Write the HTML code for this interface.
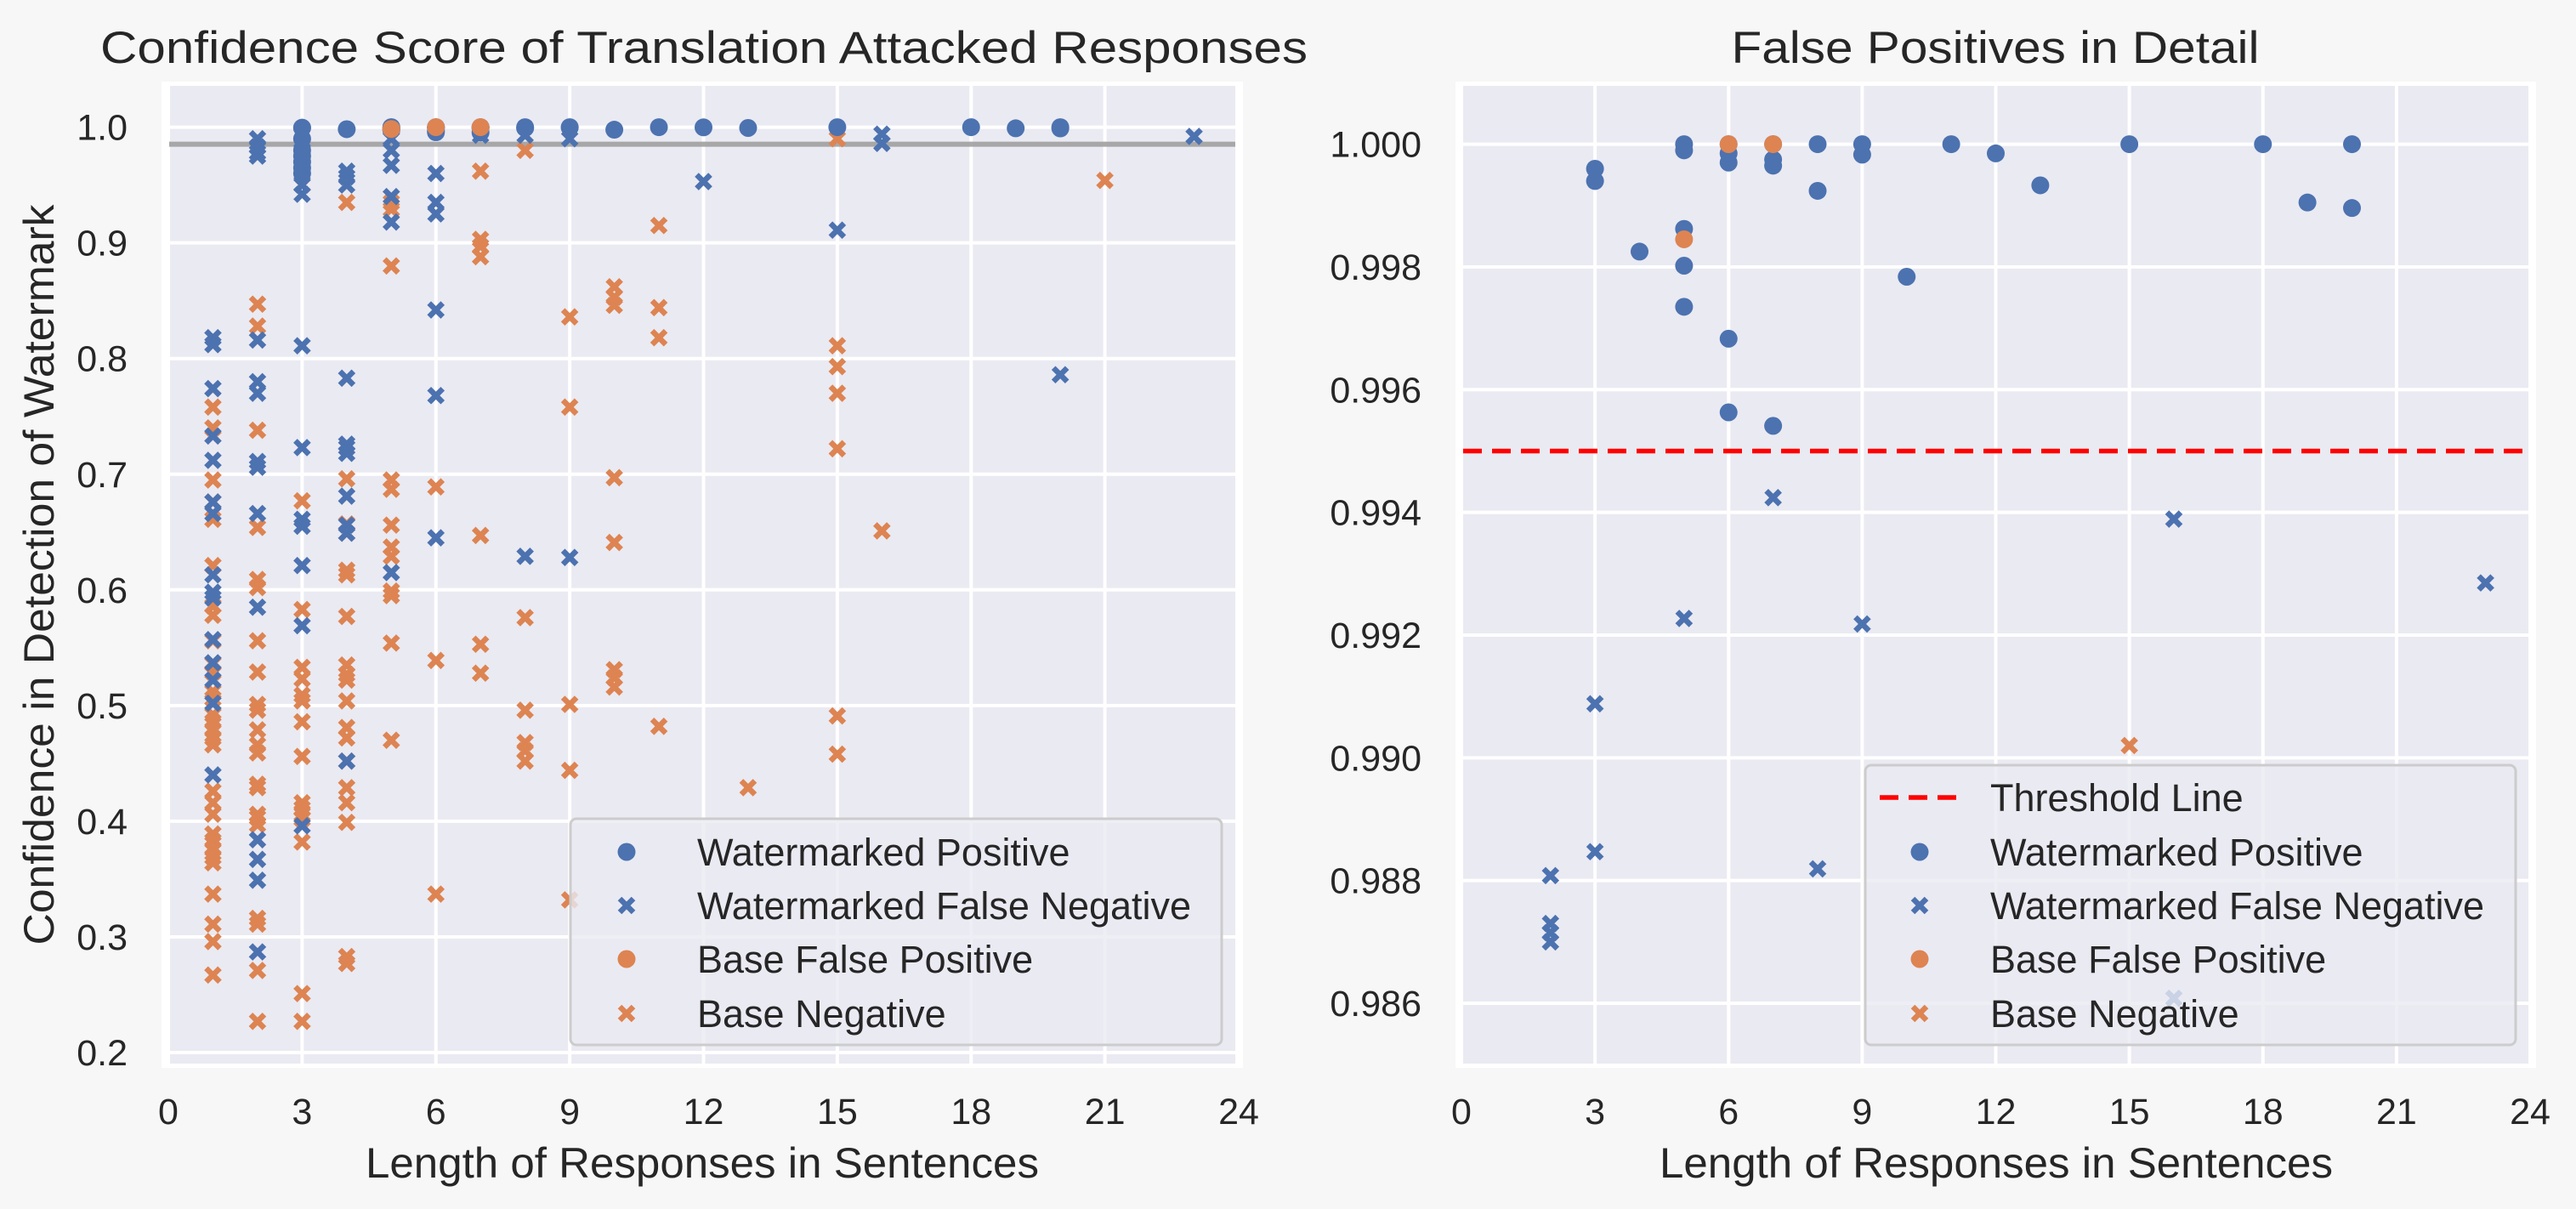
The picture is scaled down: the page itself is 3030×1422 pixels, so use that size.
<!DOCTYPE html>
<html><head><meta charset="utf-8"><style>
html,body{margin:0;padding:0;background:#f7f7f7;}
svg{display:block;font-family:"Liberation Sans",sans-serif;}
</style></head><body>
<svg id="fig" width="3030" height="1422" viewBox="0 0 3030 1422" xmlns="http://www.w3.org/2000/svg"></svg>
<script>
// ---------- data ----------
const wpX = [3,3,4,5,5,5,5,5,6,6,6,6,6,7,7,7,7,8,8,9,9,10,11,12,13,15,18,19,20,20];
const wpY = [0.9996,0.9994,0.99825,1.0,0.9999,0.99862,0.99802,0.99735,1.0,0.99985,0.9997,0.99683,0.99563,1.0,0.99975,0.99965,0.99541,1.0,0.99924,1.0,0.99983,0.99784,1.0,0.99985,0.99933,1.0,1.0,0.99905,1.0,0.99896];
const wpLeftExtraX = [3,3,3,3,3,3];
const wpLeftExtraY = [0.99,0.98,0.975,0.97,0.965,0.96];
const bfpX = [5,6,7];
const bfpY = [0.99845,1.0,1.0];
const wfnRightX = [2,2,2,2,3,3,5,7,8,9,16,16,23];
const wfnRightY = [0.98808,0.9873,0.98715,0.987,0.99088,0.98847,0.99227,0.99424,0.98819,0.99218,0.99389,0.98608,0.99285];
const bnRightX = [15];
const bnRightY = [0.9902];
const wfnLeftX = [1,1,1,1,1,1,1,1,1,1,1,1,1,1,1, 2,2,2,2,2,2,2,2,2,2,2,2,2,2,2, 3,3,3,3,3,3,3,3,3,3,3,3,3,3,3, 4,4,4,4,4,4,4,4,4,4,4, 5,5,5,5,5,5, 6,6,6,6,6,6, 7, 8,8, 9,9, 12, 15, 16,16, 20, 23];
const wfnLeftY = [0.818,0.812,0.774,0.733,0.712,0.676,0.666,0.613,0.598,0.593,0.557,0.537,0.522,0.502,0.44,
 0.99,0.983,0.978,0.975,0.816,0.78,0.77,0.711,0.706,0.666,0.585,0.384,0.367,0.349,0.287,
 0.993,0.987,0.98,0.973,0.967,0.96,0.95,0.942,0.811,0.723,0.661,0.655,0.621,0.569,0.396,
 0.962,0.957,0.95,0.783,0.726,0.723,0.718,0.681,0.656,0.649,0.452,
 0.99,0.98,0.967,0.94,0.918,0.615,
 0.96,0.935,0.925,0.842,0.768,0.645,
 0.993, 0.993,0.629, 0.99,0.628, 0.953, 0.911, 0.994,0.986, 0.786, 0.992];
const bnLeftX = [1,1,1,1,1,1,1,1,1,1,1,1,1,1,1,1,1,1,1,1,1,1,1,1,1,1,1,1,1,1,
 2,2,2,2,2,2,2,2,2,2,2,2,2,2,2,2,2,2,2,2,2,2,
 3,3,3,3,3,3,3,3,3,3,3,3,3,3,3,3,
 4,4,4,4,4,4,4,4,4,4,4,4,4,4,4,4,4,4,4,
 5,5,5,5,5,5,5,5,5,5,5,5,
 6,6,6, 7,7,7,7,7,7,7, 8,8,8,8,8,8, 9,9,9,9,9, 10,10,10,10,10,10,10,10, 11,11,11,11, 13, 15,15,15,15,15,15,15, 16, 21];
const bnLeftY = [0.758,0.74,0.695,0.676,0.661,0.621,0.586,0.578,0.556,0.536,0.529,0.512,0.506,0.492,0.486,0.479,0.472,0.466,0.426,0.416,0.406,0.389,0.383,0.376,0.369,0.364,0.337,0.311,0.296,0.267,
 0.847,0.828,0.738,0.654,0.609,0.602,0.556,0.529,0.501,0.496,0.479,0.466,0.459,0.432,0.429,0.406,0.403,0.397,0.316,0.311,0.271,0.227,
 0.95,0.677,0.583,0.533,0.523,0.509,0.504,0.486,0.456,0.416,0.411,0.406,0.402,0.382,0.251,0.227,
 0.935,0.696,0.657,0.649,0.617,0.613,0.577,0.535,0.527,0.522,0.504,0.481,0.472,0.452,0.429,0.416,0.399,0.283,0.277,
 0.935,0.929,0.88,0.695,0.687,0.656,0.637,0.629,0.599,0.595,0.554,0.47,
 0.689,0.539,0.337, 0.962,0.903,0.897,0.888,0.647,0.553,0.528, 0.98,0.576,0.496,0.468,0.461,0.452,
 0.836,0.758,0.501,0.444,0.332, 0.862,0.853,0.846,0.697,0.641,0.531,0.524,0.516,
 0.915,0.844,0.818,0.482, 0.429, 0.99,0.811,0.793,0.77,0.722,0.491,0.458, 0.651, 0.954];
const xTicks = [0,3,6,9,12,15,18,21,24];
const yTicksLeft = [0.2,0.3,0.4,0.5,0.6,0.7,0.8,0.9,1.0];
const yTicksRight = [0.986,0.988,0.990,0.992,0.994,0.996,0.998,1.000];
const leftThreshold = 0.9853;
const rightThreshold = 0.995;

// ---------- helpers ----------
const NS='http://www.w3.org/2000/svg';
const svg=document.getElementById('fig');
function mk(tag,attrs,parent){const e=document.createElementNS(NS,tag);for(const k in attrs)e.setAttribute(k,attrs[k]);(parent||svg).appendChild(e);return e;}
const BLUE='#4c72b0', ORANGE='#dd8452', TXT='#262626';

function makeAxes(o){
  const g=mk('g',{});
  
  
  const sx=v=>o.x0+(v-o.xa)*(o.x1-o.x0)/(o.xb-o.xa);
  const sy=v=>o.y0+(v-o.ya)*(o.y1-o.y0)/(o.yb-o.ya);
  mk('rect',{x:o.L-9,y:o.T-5,width:o.R-o.L+18,height:o.B-o.T+10,fill:'#ffffff'},g);
  mk('rect',{x:o.L,y:o.T,width:o.R-o.L,height:o.B-o.T,fill:'#eaeaf2'},g);
  xTicks.forEach(t=>{
    const x=sx(t);
    const l=mk('line',{x1:x,x2:x,y1:o.T,y2:o.B,stroke:'#fff','stroke-width':4},g);
    
    
    const tx=mk('text',{x:x,y:o.B+71,'font-size':43,fill:TXT,'text-anchor':'middle'},g);
    tx.textContent=String(t);
    
    
  });
  o.yTicks.forEach(t=>{
    const y=sy(t);
    const l=mk('line',{x1:o.L,x2:o.R,y1:y,y2:y,stroke:'#fff','stroke-width':4},g);
    
    
    const tx=mk('text',{x:o.ytx,y:y+15,'font-size':43,fill:TXT,'text-anchor':'end'},g);
    tx.textContent=t.toFixed(o.dec);
    
    
  });
  return {g,sx,sy};
}
function circ(g,x,y,c,name){const e=mk('circle',{cx:x,cy:y,r:10.5,fill:c},g);return e;}
function cross(g,x,y,c,name){const d=8;const e=mk('path',{d:`M${x-d},${y-d}L${x+d},${y+d}M${x-d},${y+d}L${x+d},${y-d}`,stroke:c,'stroke-width':6.5,fill:'none'},g);return e;}
function scatter(ax,xs,ys,c,type,name){const g=mk('g',{},ax.g);
  xs.forEach((v,i)=>{ if(type==='o')circ(g,ax.sx(v),ax.sy(ys[i]),c,name+'-point'); else cross(g,ax.sx(v),ax.sy(ys[i]),c,name+'-point');});}
function text(x,y,s,size,anchor,name,extra){const t=mk('text',Object.assign({x:x,y:y,'font-size':size,fill:TXT,'text-anchor':anchor},extra||{}));t.textContent=s;return t;}

// ---------- left axes ----------
const A=makeAxes({name:'left-chart',L:199,R:1453,T:101,B:1251,x0:198,x1:1457,xa:0,xb:24,y0:1238,y1:149.6,ya:0.2,yb:1.0,yTicks:yTicksLeft,dec:1,ytx:150});
const th1=mk('line',{x1:199,x2:1453,y1:A.sy(leftThreshold),y2:A.sy(leftThreshold),stroke:'#a0a0a0','stroke-width':6,opacity:0.9},A.g);


scatter(A,bnLeftX,bnLeftY,ORANGE,'x','base-negative');
scatter(A,wfnLeftX,wfnLeftY,BLUE,'x','watermarked-false-negative');
scatter(A,wpX,wpY,BLUE,'o','watermarked-positive');
scatter(A,wpLeftExtraX,wpLeftExtraY,BLUE,'o','watermarked-positive-extra');
scatter(A,bfpX,bfpY,ORANGE,'o','base-false-positive');

// ---------- right axes ----------
const B=makeAxes({name:'right-chart',L:1721,R:2974,T:101,B:1251,x0:1719,x1:2976,xa:0,xb:24,y0:1180,y1:169.6,ya:0.986,yb:1.0,yTicks:yTicksRight,dec:3,ytx:1672});
const th2=mk('line',{x1:1721,x2:2974,y1:B.sy(rightThreshold),y2:B.sy(rightThreshold),stroke:'#ff0000','stroke-width':5.5,'stroke-dasharray':'22,12'},B.g);


scatter(B,bnRightX,bnRightY,ORANGE,'x','base-negative');
scatter(B,wfnRightX,wfnRightY,BLUE,'x','watermarked-false-negative');
scatter(B,wpX,wpY,BLUE,'o','watermarked-positive');
scatter(B,bfpX,bfpY,ORANGE,'o','base-false-positive');

// ---------- legends ----------
function legend(x,y,w,h,rows,mx,tx,name){
  const g=mk('g',{});
  mk('rect',{x:x,y:y,width:w,height:h,rx:7,fill:'#eaeaf2','fill-opacity':0.8,stroke:'#cccccc','stroke-width':3},g);
  rows.forEach(r=>{
    let m;
    if(r.t==='o')m=circ(g,mx,r.y,r.c,'legend-marker');
    else if(r.t==='x')m=cross(g,mx,r.y,r.c,'legend-marker');
    else {m=mk('line',{x1:mx-47,x2:mx+44,y1:r.y,y2:r.y,stroke:'#ff0000','stroke-width':5.5,'stroke-dasharray':'22,12'},g);}
    const t=mk('text',{x:tx,y:r.y+16,'font-size':45,fill:TXT},g);t.textContent=r.s;
    
  });
}
legend(671,963,766,266,[{t:'o',c:BLUE,s:'Watermarked Positive',y:1002},{t:'x',c:BLUE,s:'Watermarked False Negative',y:1065},{t:'o',c:ORANGE,s:'Base False Positive',y:1128},{t:'x',c:ORANGE,s:'Base Negative',y:1192}],737,820,'left-legend');
legend(2194,900,765,329,[{t:'-',s:'Threshold Line',y:938},{t:'o',c:BLUE,s:'Watermarked Positive',y:1002},{t:'x',c:BLUE,s:'Watermarked False Negative',y:1065},{t:'o',c:ORANGE,s:'Base False Positive',y:1128},{t:'x',c:ORANGE,s:'Base Negative',y:1192}],2258,2341,'right-legend');

// ---------- titles & labels ----------
text(828,74,'Confidence Score of Translation Attacked Responses',53,'middle','left-chart-title',{textLength:1420,lengthAdjust:'spacingAndGlyphs'});
text(2347,74,'False Positives in Detail',53,'middle','right-chart-title',{textLength:621,lengthAdjust:'spacingAndGlyphs'});
text(826,1385,'Length of Responses in Sentences',50,'middle','x-axis-title',{textLength:792,lengthAdjust:'spacingAndGlyphs'});
text(2348,1385,'Length of Responses in Sentences',50,'middle','x-axis-title-right',{textLength:792,lengthAdjust:'spacingAndGlyphs'});
text(0,0,'Confidence in Detection of Watermark',50,'middle','y-axis-title',{transform:'translate(63,676) rotate(-90)',textLength:871,lengthAdjust:'spacingAndGlyphs'});
</script>
</body></html>
